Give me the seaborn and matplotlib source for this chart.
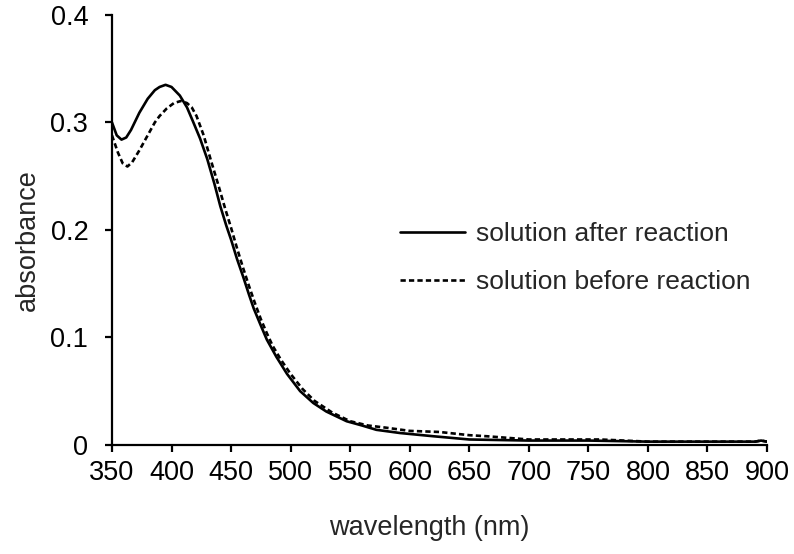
import numpy as np
import pandas as pd
import matplotlib
matplotlib.use("Agg")
import matplotlib.pyplot as plt
import seaborn as sns

# Absorbance spectra (wavelength in nm)
wl_after = [350, 354, 358, 362, 366, 373, 380, 386, 390, 395, 400, 407, 413, 418,
            424, 430, 436, 441, 446, 450, 455, 460, 465, 469, 475, 480, 488, 497,
            508, 519, 530, 547, 560, 572, 592, 620, 650, 700, 750, 800, 850, 890,
            895, 900]
abs_after = [0.300, 0.288, 0.284, 0.286, 0.293, 0.309, 0.322, 0.330, 0.333, 0.335,
             0.333, 0.325, 0.314, 0.301, 0.285, 0.266, 0.243, 0.222, 0.204, 0.191,
             0.173, 0.157, 0.140, 0.127, 0.111, 0.098, 0.082, 0.066, 0.050, 0.039,
             0.031, 0.022, 0.018, 0.014, 0.011, 0.008, 0.005, 0.004, 0.004, 0.003,
             0.003, 0.003, 0.004, 0.003]

wl_before = [350, 355, 359, 363, 367, 373, 380, 386, 390, 396, 402, 408, 413, 417,
             421, 427, 433, 439, 445, 450, 455, 460, 465, 470, 475, 480, 485, 492,
             500, 510, 520, 535, 550, 565, 580, 600, 625, 650, 665, 700, 730, 760,
             800, 850, 890, 895, 900]
abs_before = [0.288, 0.272, 0.262, 0.259, 0.263, 0.274, 0.288, 0.300, 0.306, 0.313,
              0.318, 0.320, 0.318, 0.314, 0.306, 0.288, 0.265, 0.243, 0.220, 0.202,
              0.183, 0.165, 0.148, 0.132, 0.117, 0.104, 0.092, 0.079, 0.066, 0.052,
              0.041, 0.030, 0.022, 0.018, 0.016, 0.013, 0.012, 0.009, 0.008, 0.005,
              0.005, 0.005, 0.003, 0.003, 0.003, 0.004, 0.003]

label_after = "solution after reaction"
label_before = "solution before reaction"

x_ticks = [350, 400, 450, 500, 550, 600, 650, 700, 750, 800, 850, 900]
y_ticks = [0, 0.1, 0.2, 0.3, 0.4]
y_ticklabels = ["0", "0.1", "0.2", "0.3", "0.4"]

df = pd.concat([
    pd.DataFrame({"wavelength": wl_after, "absorbance": abs_after, "sample": label_after}),
    pd.DataFrame({"wavelength": wl_before, "absorbance": abs_before, "sample": label_before}),
], ignore_index=True)

sns.set_style("ticks")
plt.rcParams["font.family"] = ["Liberation Sans", "DejaVu Sans"]

FS = 19.5

fig = plt.figure(figsize=(7.94, 5.54), dpi=100)
ax = fig.add_axes([0.141, 0.197, 0.825, 0.776])

sns.lineplot(
    data=df, x="wavelength", y="absorbance", style="sample",
    style_order=[label_after, label_before],
    dashes={label_after: "", label_before: (2.0, 1.2)},
    color="black", linewidth=1.9, sort=False, estimator=None, ax=ax,
)

ax.set_xlim(350, 900)
ax.set_ylim(0, 0.4)
ax.set_xticks(x_ticks)
ax.set_xticklabels([str(t) for t in x_ticks])
ax.set_yticks(y_ticks)
ax.set_yticklabels(y_ticklabels)
ax.tick_params(axis="both", labelsize=FS, length=5, width=1.6, color="black",
               labelcolor="black")
ax.tick_params(axis="x", pad=6)
ax.tick_params(axis="y", pad=12)
ax.set_xlabel("wavelength (nm)", fontsize=FS)
ax.set_ylabel("absorbance", fontsize=FS)
ax.xaxis.set_label_coords(0.484, -0.162)
ax.yaxis.set_label_coords(-0.108, 0.477)

for side in ("top", "right"):
    ax.spines[side].set_visible(False)
for side in ("left", "bottom"):
    ax.spines[side].set_linewidth(1.6)
    ax.spines[side].set_color("black")

handles, labels = ax.get_legend_handles_labels()
ax.legend(handles, labels, loc="upper left", bbox_to_anchor=(0.44, 0.518),
          frameon=False, fontsize=19, handlelength=2.45, handletextpad=0.42,
          labelspacing=0.9, borderpad=0, borderaxespad=0)

fig.savefig("out.png", dpi=100)
